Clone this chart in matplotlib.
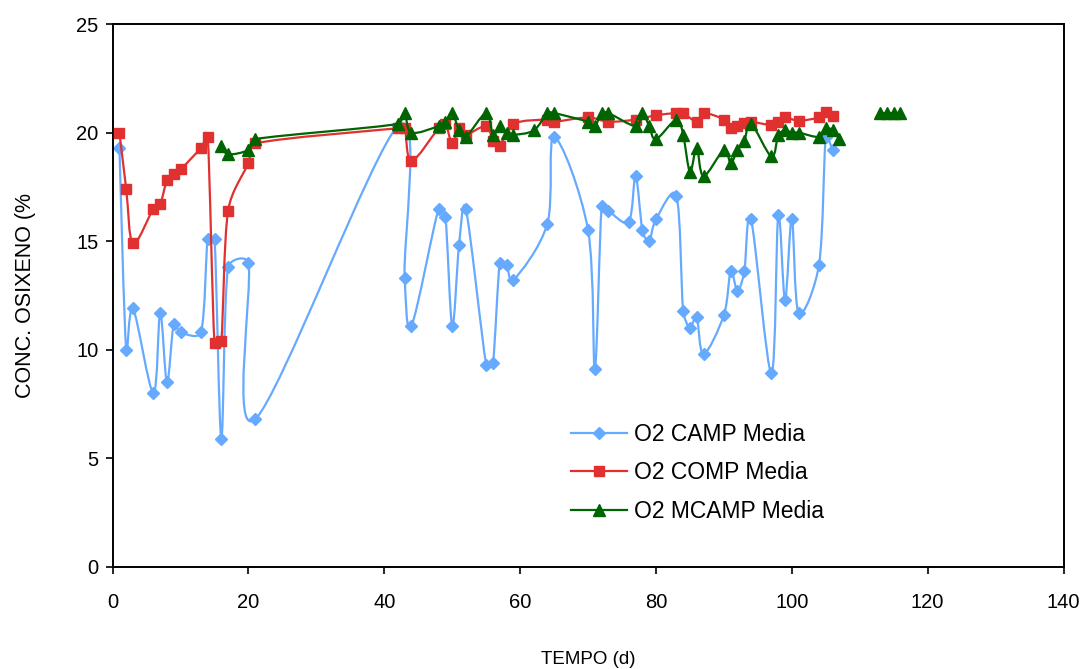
import numpy as np
import matplotlib
matplotlib.use('Agg')
import matplotlib.pyplot as plt
from matplotlib.path import Path
from matplotlib.patches import PathPatch

plt.rcParams['font.family'] = ['Liberation Sans', 'DejaVu Sans']

# tempo (d) and dissolved O2 means
camp_x = [1, 2, 3, 6, 7, 8, 9, 10, 13, 14, 15, 16, 17, 20, 21, 42, 43, 44, 48, 49,
          50, 51, 52, 55, 56, 57, 58, 59, 64, 65, 70, 71, 72, 73, 76, 77, 78, 79, 80,
          83, 84, 85, 86, 87, 90, 91, 92, 93, 94, 97, 98, 99, 100, 101, 104, 105, 106]
camp_y = [19.3, 10.0, 11.9, 8.0, 11.7, 8.5, 11.2, 10.8, 10.8, 15.1, 15.1, 5.9, 13.8, 14.0,
          6.8, 20.3, 13.3, 11.1, 16.5, 16.1, 11.1, 14.8, 16.5, 9.3, 9.4, 14.0, 13.9, 13.2,
          15.8, 19.8, 15.5, 9.1, 16.6, 16.4, 15.9, 18.0, 15.5, 15.0, 16.0, 17.1, 11.8, 11.0,
          11.5, 9.8, 11.6, 13.6, 12.7, 13.6, 16.0, 8.9, 16.2, 12.3, 16.0, 11.7, 13.9, 19.8,
          19.2]

comp_x = [1, 2, 3, 6, 7, 8, 9, 10, 13, 14, 15, 16, 17, 20, 21, 42, 43, 44, 48, 49, 50,
          51, 52, 55, 56, 57, 59, 64, 65, 70, 73, 77, 80, 83, 84, 86, 87, 90, 91, 92, 93,
          94, 97, 98, 99, 101, 104, 105, 106]
comp_y = [20.0, 17.4, 14.9, 16.5, 16.7, 17.8, 18.1, 18.3, 19.3, 19.8, 10.3, 10.4, 16.4,
          18.6, 19.5, 20.2, 20.2, 18.7, 20.2, 20.4, 19.5, 20.2, 19.9, 20.3, 19.6, 19.4,
          20.4, 20.6, 20.5, 20.7, 20.5, 20.6, 20.8, 20.9, 20.9, 20.5, 20.9, 20.6, 20.2,
          20.3, 20.45, 20.5, 20.35, 20.5, 20.7, 20.55, 20.7, 20.95, 20.75]

# blank cell at 110 breaks the MCAMP line
mcamp_x = [16, 17, 20, 21, 42, 43, 44, 48, 49, 50, 51, 52, 55, 56, 57, 58, 59, 62, 64,
           65, 70, 71, 72, 73, 77, 78, 79, 80, 83, 84, 85, 86, 87, 90, 91, 92, 93, 94,
           97, 98, 99, 100, 101, 104, 105, 106, 107, 110, 113, 114, 115, 116]
mcamp_y = [19.4, 19.0, 19.2, 19.7, 20.4, 20.9, 20.0, 20.3, 20.5, 20.9, 20.1, 19.8, 20.9,
           19.9, 20.3, 20.0, 19.9, 20.1, 20.9, 20.9, 20.5, 20.3, 20.9, 20.9, 20.3, 20.9,
           20.3, 19.7, 20.6, 19.9, 18.2, 19.3, 18.0, 19.2, 18.6, 19.2, 19.6, 20.4, 18.9,
           19.9, 20.1, 20.0, 20.0, 19.8, 20.2, 20.1, 19.7, np.nan, 20.9, 20.9, 20.9, 20.9]

labels = ['O2 CAMP Media', 'O2 COMP Media', 'O2 MCAMP Media']
colors = ['#66aaff', '#e03030', '#006400']
markers = ['D', 's', '^']
msizes = [6.5, 7.5, 8.5]

# rough pixels per data unit, only used to shape the smoothed curves
SX, SY = 6.79, 21.7


def smooth_path(x, y, k=0.4):
    # smoothed line like a spreadsheet: bezier through every point,
    # control arms limited by the length of the neighbouring segment
    x = np.asarray(x, float)
    y = np.asarray(y, float)
    verts, codes = [], []
    idx = np.where(~np.isnan(y))[0]
    groups = np.split(idx, np.where(np.diff(idx) != 1)[0] + 1)
    for g in groups:
        pts = np.column_stack([x[g] * SX, y[g] * SY])
        n = len(pts)
        tang = []
        for i in range(n):
            t = (pts[min(i + 1, n - 1)] - pts[max(i - 1, 0)]) / 6
            tang.append(t)
        verts.append(pts[0])
        codes.append(Path.MOVETO)
        for i in range(n - 1):
            p1, p2 = pts[i], pts[i + 1]
            seg = np.hypot(*(p2 - p1))
            t1, t2 = tang[i], tang[i + 1]
            n1, n2 = np.hypot(*t1), np.hypot(*t2)
            if n1 > k * seg:
                t1 = t1 * k * seg / n1
            if n2 > k * seg:
                t2 = t2 * k * seg / n2
            verts += [p1 + t1, p2 - t2, p2]
            codes += [Path.CURVE4] * 3
    verts = np.array(verts) / [SX, SY]
    return Path(verts, codes)


fig = plt.figure(figsize=(10.83, 6.69), dpi=100)
ax = fig.add_axes([0.104, 0.153, 0.878, 0.811])

series = [(camp_x, camp_y), (comp_x, comp_y), (mcamp_x, mcamp_y)]
for k, (xs, ys) in enumerate(series):
    patch = PathPatch(smooth_path(xs, ys), facecolor='none', edgecolor=colors[k],
                      lw=1.6, zorder=2 + k)
    ax.add_patch(patch)
    ax.plot(xs, ys, ls='none', marker=markers[k], ms=msizes[k], color=colors[k],
            mec=colors[k], zorder=2.5 + k)
    ax.plot([], [], color=colors[k], lw=1.6, marker=markers[k], ms=msizes[k],
            label=labels[k])

ax.set_xlim(0, 140)
ax.set_ylim(0, 25)
ax.set_xticks(np.arange(0, 141, 20))
ax.set_yticks(np.arange(0, 26, 5))
ax.tick_params(direction='out', length=5, width=1.2, labelsize=14.5)
ax.tick_params(axis='x', pad=14)
ax.tick_params(axis='y', pad=5)
for s in ax.spines.values():
    s.set_linewidth(1.4)
    s.set_color('black')

ax.set_xlabel('TEMPO (d)', fontsize=13.5, labelpad=28)
ax.set_ylabel('CONC. OSIXENO (%', fontsize=15.5, labelpad=29)

fig.legend(loc='upper left', bbox_to_anchor=(0.527, 0.368), frameon=False,
           fontsize=16.5, handlelength=2.45, handletextpad=0.3, labelspacing=0.68,
           borderpad=0, borderaxespad=0)

fig.savefig('out.png', dpi=100)
